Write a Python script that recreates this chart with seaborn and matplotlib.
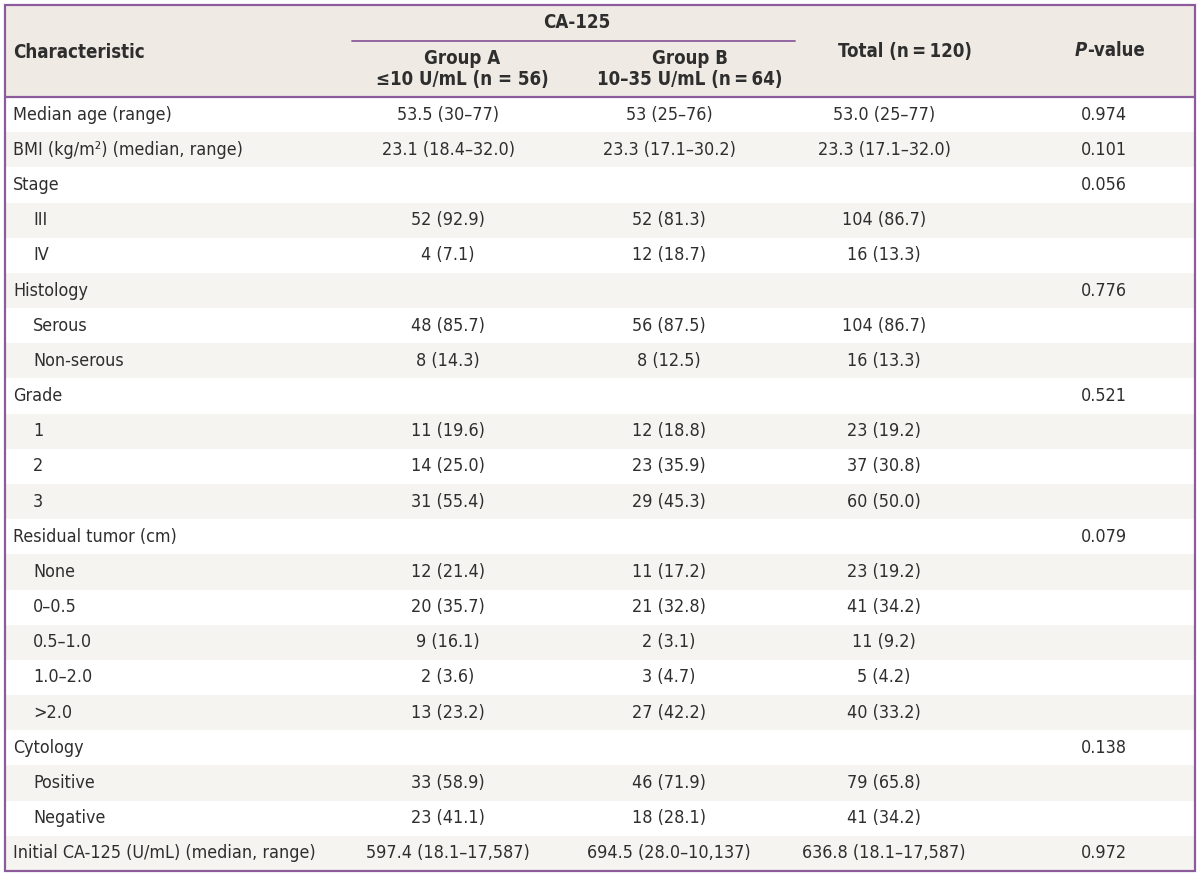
import numpy as np
import matplotlib
matplotlib.use("Agg")
import matplotlib.pyplot as plt
from matplotlib.colors import ListedColormap
import seaborn as sns

# Table content
characteristics = [
    "Median age (range)", "BMI (kg/m²) (median, range)", "Stage", "III", "IV",
    "Histology", "Serous", "Non-serous", "Grade", "1", "2", "3",
    "Residual tumor (cm)", "None", "0–0.5", "0.5–1.0", "1.0–2.0", ">2.0",
    "Cytology", "Positive", "Negative", "Initial CA-125 (U/mL) (median, range)",
]
is_subrow = [False, False, False, True, True, False, True, True, False, True, True, True,
             False, True, True, True, True, True, False, True, True, False]
group_a = [
    "53.5 (30–77)", "23.1 (18.4–32.0)", "", "52 (92.9)", "4 (7.1)", "",
    "48 (85.7)", "8 (14.3)", "", "11 (19.6)", "14 (25.0)", "31 (55.4)", "",
    "12 (21.4)", "20 (35.7)", "9 (16.1)", "2 (3.6)", "13 (23.2)", "",
    "33 (58.9)", "23 (41.1)", "597.4 (18.1–17,587)",
]
group_b = [
    "53 (25–76)", "23.3 (17.1–30.2)", "", "52 (81.3)", "12 (18.7)", "",
    "56 (87.5)", "8 (12.5)", "", "12 (18.8)", "23 (35.9)", "29 (45.3)", "",
    "11 (17.2)", "21 (32.8)", "2 (3.1)", "3 (4.7)", "27 (42.2)", "",
    "46 (71.9)", "18 (28.1)", "694.5 (28.0–10,137)",
]
total = [
    "53.0 (25–77)", "23.3 (17.1–32.0)", "", "104 (86.7)", "16 (13.3)", "",
    "104 (86.7)", "16 (13.3)", "", "23 (19.2)", "37 (30.8)", "60 (50.0)", "",
    "23 (19.2)", "41 (34.2)", "11 (9.2)", "5 (4.2)", "40 (33.2)", "",
    "79 (65.8)", "41 (34.2)", "636.8 (18.1–17,587)",
]
p_values = [
    "0.974", "0.101", "0.056", "", "", "0.776", "", "", "0.521", "", "", "",
    "0.079", "", "", "", "", "", "0.138", "", "", "0.972",
]
group_headers = [("Group A", "≤10 U/mL (n = 56)"), ("Group B", "10–35 U/mL (n\u2009=\u200964)")]

sns.set_theme(style="white")
plt.rcParams["font.family"] = ["DejaVu Sans Condensed", "Liberation Sans Narrow", "DejaVu Sans"]
plt.rcParams["font.stretch"] = "condensed"

W, H = 1200, 876
purple = "#8c5b9c"
header_bg = "#efebe4"
stripe = "#f5f4f0"
ink = "#2e2e2e"
fs = 12.9

fig = plt.figure(figsize=(W / 100, H / 100), dpi=100)
fig.patch.set_facecolor("white")

# table geometry in pixels
left, right, top, head_bot, bottom = 5, 1195, 5, 97, 871
n_rows = len(characteristics)
row_h = (bottom - head_bot) / n_rows

# banded body rows via heatmap
band = (np.arange(n_rows) % 2).reshape(-1, 1)
body_ax = fig.add_axes([left / W, 1 - bottom / H, (right - left) / W, (bottom - head_bot) / H])
sns.heatmap(band, cmap=ListedColormap(["white", stripe]), cbar=False, ax=body_ax,
            xticklabels=False, yticklabels=False, linewidths=0)

# overlay in pixel coords
ax = fig.add_axes([0, 0, 1, 1])
ax.set_xlim(0, W)
ax.set_ylim(H, 0)
ax.patch.set_alpha(0)
ax.axis("off")

ax.add_patch(plt.Rectangle((left, top), right - left, head_bot - top, facecolor=header_bg, edgecolor="none"))
ax.add_patch(plt.Rectangle((left, top), right - left, bottom - top, facecolor="none", edgecolor=purple, lw=1.6))
ax.plot([left, right], [head_bot, head_bot], color=purple, lw=1.6)
ax.plot([352, 795], [41, 41], color=purple, lw=1.3)

# header text
hk = dict(fontsize=13.4, fontweight="bold", color=ink, va="center")
ax.text(13, 52, "Characteristic", ha="left", **hk)
ax.text(577, 22, "CA-125", ha="center", **hk)
for cx, (l1, l2) in zip([462, 690], group_headers):
    ax.text(cx, 58, l1, ha="center", **hk)
    ax.text(cx, 79, l2, ha="center", **hk)
ax.text(905, 51, "Total (n\u2009=\u2009120)", ha="center", **hk)
ax.text(1087, 51, "P", ha="right", fontstyle="italic", **hk)
ax.text(1087, 51, "-value", ha="left", **hk)

# body text
col_x = [448, 669, 884, 1104]
bk = dict(fontsize=fs, color=ink, va="center")
for i in range(n_rows):
    y = head_bot + (i + 0.5) * row_h
    ax.text(33 if is_subrow[i] else 13, y, characteristics[i], ha="left", **bk)
    for cx, col in zip(col_x, [group_a, group_b, total, p_values]):
        if col[i]:
            ax.text(cx, y, col[i], ha="center", **bk)

fig.savefig("out.png", dpi=100)
